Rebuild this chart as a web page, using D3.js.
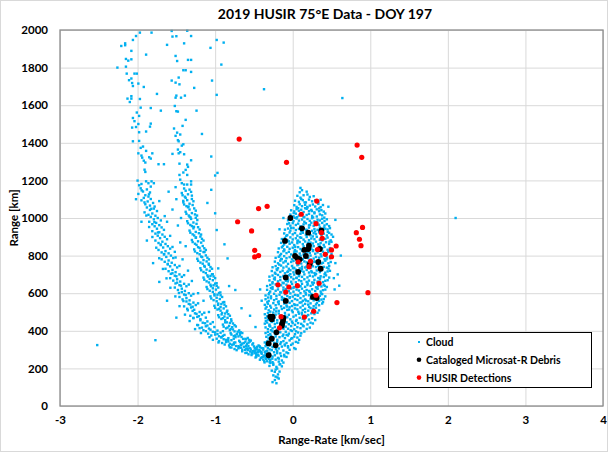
<!DOCTYPE html>
<html>
<head>
<meta charset="utf-8">
<script src="https://cdn.jsdelivr.net/npm/d3@7"></script>
<style>
body { margin: 0; background: #fff; }
#ScatterPlot text { font-family: Lato, "Liberation Sans", sans-serif; font-weight: bold; fill: #000; }
</style>
</head>
<body>
<div id="ScatterPlot"></div>
<script>
// HUSIR 75E scatter plot, range vs range-rate

//////////////////////////////////////////////////////////////////////
// data [range-rate km/s, range km]

var xTicks = [-3, -2, -1, 0, 1, 2, 3, 4];
var yTicks = [0, 200, 400, 600, 800, 1000, 1200, 1400, 1600, 1800, 2000];
var legendLabels = ["Cloud", "Cataloged Microsat-R Debris", "HUSIR Detections"];

// red dots
var husirPoints = [
  [-0.69,1420],[-0.08,1296],[0.83,1388],[0.89,1323],[0.31,1090],[-0.44,1050],[-0.33,1062],
  [-0.71,980],[-0.53,931],[0.11,1020],[0.30,970],[0.90,950],[0.82,922],[0.86,887],[0.88,853],
  [0.56,851],[0.38,892],[0.37,922],[-0.49,828],[-0.49,793],[-0.44,800],[0.32,832],[0.42,807],
  [0.50,830],[0.50,794],[0.07,766],[0.23,770],[0.21,741],[-0.19,645],[-0.05,633],[0.06,640],
  [0.34,653],[-0.09,606],[0.30,589],[0.97,603],[0.57,550],[0.27,504],[-0.15,475],[0.15,473],
  [-0.17,416]
];

// black dots
var debrisPoints = [
  [-0.03,1000],[0.12,945],[0.20,922],[0.37,934],[-0.10,878],[0.21,853],[0.20,835],[0.15,830],
  [0.35,835],[0.03,798],[0.06,786],[0.17,798],[0.09,780],[0.33,766],[0.22,755],[0.36,730],
  [0.07,713],[-0.09,684],[-0.09,559],[0.26,580],[0.31,574],[-0.29,475],[-0.26,475],[-0.27,462],
  [-0.12,468],[-0.125,454],[-0.135,440],[-0.14,427],[-0.21,392],[-0.27,358],[-0.31,333],
  [-0.22,323],[-0.31,270]
];

// cloud, sparse upper part of the left branch
var cloudUpper = [
  [-1.97,1986],[-2.02,1968],[-1.82,1986],[-1.56,1995],[-1.36,1996],[-1.55,1965],[-1.50,1967],
  [-1.31,1968],[-2.06,1947],[-2.16,1929],[-2.21,1915],[-2.16,1919],[-1.62,1921],[-1.40,1929],
  [-0.98,1947],[-0.89,1933],[-2.08,1889],[-1.06,1905],[-1.89,1869],[-1.51,1862],[-2.15,1846],
  [-2.12,1837],[-2.08,1844],[-1.49,1835],[-1.35,1841],[-1.31,1841],[-0.92,1816],[-2.26,1800],
  [-2.15,1805],[-1.41,1786],[-1.38,1786],[-1.31,1777],[-2.14,1768],[-2.04,1768],[-2.01,1768],
  [-2.11,1733],[-2.08,1742],[-1.47,1747],[-1.56,1731],[-1.51,1720],[-1.46,1711],[-1.04,1731],
  [-2.07,1718],[-1.99,1715],[-1.92,1697],[-2.06,1702],[-1.27,1692],[-1.75,1660],[-2.08,1648],
  [-2.13,1635],[-2.08,1635],[-1.97,1633],[-1.50,1651],[-1.39,1651],[-1.44,1640],[-1.51,1640],
  [-0.98,1655],[-2.10,1617],[-1.83,1585],[-1.96,1587],[-1.70,1571],[-1.52,1596],[-1.50,1568],
  [-1.48,1566],[-1.24,1571],[-2.01,1561],[-1.98,1543],[-2.06,1532],[-2.04,1515],[-1.38,1522],
  [-1.99,1500],[-2.07,1481],[-2.02,1484],[-1.83,1502],[-1.84,1486],[-1.42,1490],[-1.53,1476],
  [-1.89,1460],[-1.49,1454],[-1.98,1456],[-1.17,1447],[-1.51,1437],[-1.45,1444],[-1.48,1414],
  [-2.06,1408],[-1.98,1410],[-1.41,1392],[-1.43,1385],[-1.47,1408],[-1.93,1380],[-1.96,1373],
  [-1.48,1364],[-1.45,1350],[-1.40,1339],[-1.47,1344],[-1.55,1341],[-1.99,1344],[-1.95,1332],
  [-1.94,1321],[-1.89,1357],[-1.81,1344],[-1.85,1323],[-1.05,1327],[-1.92,1305],[-1.90,1295],
  [-1.83,1316],[-1.31,1307],[-1.73,1286],[-1.66,1286],[-1.46,1289],[-1.36,1284],[-1.35,1272],
  [-1.91,1257],[-1.90,1245],[-1.38,1256],[-1.41,1242],[-1.46,1229],[-1.36,1229],[-0.97,1240],
  [-1.00,1226],[-2.00,1199],[-1.89,1195],[-1.82,1195],[-1.86,1185],[-1.79,1185],[-1.98,1174],
  [-1.95,1181],[-1.83,1167],[-1.45,1204],[-1.43,1185],[-1.40,1178],[-1.51,1164],[-1.36,1178],
  [-1.31,1195],[-1.31,1178]
];

// cloud, outer arm of the left branch
var cloudOuterArm = [
  [-1.96,1158],[-1.88,1152],[-1.93,1141],[-1.84,1136],[-1.99,1128],[-1.90,1121],[-1.86,1114],
  [-1.92,1107],[-1.83,1101],[-1.95,1094],[-1.87,1088],[-1.80,1080],[-1.90,1073],[-1.84,1066],[-1.78,1061],
  [-1.88,1056],[-1.79,1050],[-1.84,1043],[-1.75,1037],[-1.91,1030],[-1.81,1024],[-1.86,1017],[-1.77,1012],
  [-1.83,1006],[-1.74,1000],[-1.79,993],[-1.70,987],[-1.85,980],[-1.76,974],[-1.81,967],[-1.72,962],
  [-1.78,956],[-1.69,950],[-1.75,943],[-1.66,937],[-1.81,930],[-1.72,924],[-1.77,917],[-1.68,912],
  [-1.74,906],[-1.65,900],[-1.71,893],[-1.62,887],[-1.77,880],[-1.68,874],[-1.73,867],[-1.64,862],
  [-1.70,856],[-1.61,850],[-1.67,843],[-1.58,837],[-1.73,830],[-1.64,824],[-1.69,817],[-1.60,812],[-1.55,846],
  [-1.66,806],[-1.57,800],[-1.63,793],[-1.54,787],[-1.69,780],[-1.60,774],[-1.65,767],[-1.56,762],[-1.51,790],
  [-1.61,756],[-1.52,750],[-1.58,743],[-1.49,737],[-1.64,730],[-1.55,724],[-1.60,717],[-1.51,712],[-1.46,745],
  [-1.55,706],[-1.46,700],[-1.52,693],[-1.43,687],[-1.58,680],[-1.49,674],[-1.54,667],[-1.45,662],[-1.40,696],[-1.50,690],
  [-1.49,656],[-1.40,650],[-1.46,643],[-1.37,637],[-1.52,630],[-1.43,624],[-1.48,617],[-1.39,612],[-1.34,646],[-1.44,640],
  [-1.43,606],[-1.34,600],[-1.40,593],[-1.31,587],[-1.46,580],[-1.37,574],[-1.42,567],[-1.33,562],[-1.28,596],[-1.38,590],
  [-1.37,556],[-1.28,550],[-1.34,543],[-1.25,537],[-1.40,530],[-1.31,524],[-1.36,517],[-1.27,512],[-1.22,546],[-1.32,540],[-1.29,528],
  [-1.29,506],[-1.20,500],[-1.26,493],[-1.17,487],[-1.32,480],[-1.23,474],[-1.28,467],[-1.19,462],[-1.14,496],[-1.24,490],[-1.21,478],[-1.12,470],
  [-1.19,456],[-1.10,450],[-1.16,443],[-1.06,437],[-1.22,430],[-1.12,424],[-1.17,417],[-1.08,412],[-1.03,446],[-1.13,440],[-1.10,428],[-1.01,420],[-1.20,414],
  [-1.06,406],[-0.97,401],[-1.03,395],[-0.93,390],[-1.09,385],[-1.00,380],[-1.05,375],[-0.95,371],[-0.90,398],[-1.00,392],[-0.97,383],[-0.88,378],[-1.12,398],[-0.92,365],
  [-0.92,366],[-0.83,361],[-0.89,355],[-0.79,350],[-0.95,345],[-0.86,340],[-0.91,335],[-0.81,331],[-0.76,358],[-0.86,352],[-0.83,343],[-0.74,338],[-0.98,358],[-0.78,326],
  [-0.76,328],[-0.67,324],[-0.73,319],[-0.63,315],[-0.79,311],[-0.70,307],[-0.75,303],[-0.65,300],[-0.60,320],[-0.70,318],[-0.67,310],[-0.58,306],[-0.82,322],
  [-0.58,298],[-0.49,294],[-0.55,290],[-0.45,286],[-0.61,282],[-0.52,279],[-0.57,275],[-0.47,272],[-0.42,292],[-0.52,288],[-0.49,281],[-0.40,278],
  [-0.44,268],[-0.38,262],[-0.41,255],[-0.35,258],[-0.47,262],[-0.38,247],
  [-1.947,1147],[-1.853,1126],[-1.911,1083],[-1.823,1049],[-1.887,1013],[-1.783,978],[-1.851,952],[-1.737,923],
  [-1.809,899],[-1.701,859],[-1.759,842],[-1.657,808],[-1.721,786],[-1.611,753],[-1.673,729],[-1.571,703],
  [-1.627,679],[-1.511,652],[-1.577,629],[-1.467,601],[-1.513,583],[-1.409,558],[-1.459,531],[-1.353,509],
  [-1.389,486],[-1.281,469],[-1.329,452],[-1.231,431],[-1.259,409],[-1.151,403],[-1.183,388],[-1.073,366],
  [-1.029,352],[-0.957,338],[-0.877,327],[-0.811,312],[-0.723,297],[-0.651,291],[-0.593,283],[-0.531,271],
  [-0.479,258],[-0.423,246],[-0.367,239]
];

// cloud, inner arm of the left branch
var cloudInnerArm = [
  [-1.40,1157],[-1.33,1151],[-1.38,1145],[-1.31,1139],[-1.43,1133],[-1.35,1126],[-1.30,1119],[-1.39,1113],[-1.42,1121],
  [-1.38,1107],[-1.30,1101],[-1.36,1095],[-1.28,1089],[-1.41,1083],[-1.33,1076],[-1.29,1069],[-1.37,1063],[-1.40,1072],
  [-1.35,1057],[-1.27,1051],[-1.33,1045],[-1.25,1039],[-1.38,1033],[-1.30,1026],[-1.26,1019],[-1.34,1013],[-1.37,1022],
  [-1.33,1007],[-1.25,1001],[-1.31,995],[-1.23,989],[-1.36,983],[-1.28,976],[-1.24,969],[-1.32,963],[-1.35,972],
  [-1.30,957],[-1.22,951],[-1.28,945],[-1.20,939],[-1.33,933],[-1.25,926],[-1.21,919],[-1.29,913],[-1.32,922],
  [-1.27,907],[-1.19,901],[-1.25,895],[-1.17,889],[-1.30,883],[-1.22,876],[-1.18,869],[-1.26,863],[-1.29,872],[-1.15,880],
  [-1.24,857],[-1.16,851],[-1.22,845],[-1.14,839],[-1.27,833],[-1.19,826],[-1.15,819],[-1.23,813],[-1.26,822],[-1.12,830],
  [-1.20,807],[-1.12,801],[-1.18,795],[-1.10,789],[-1.23,783],[-1.15,776],[-1.11,769],[-1.19,763],[-1.22,772],[-1.08,780],
  [-1.16,757],[-1.08,751],[-1.14,745],[-1.06,739],[-1.19,733],[-1.11,726],[-1.07,719],[-1.15,713],[-1.18,722],[-1.04,730],
  [-1.12,707],[-1.04,701],[-1.10,695],[-1.02,689],[-1.15,683],[-1.07,676],[-1.03,669],[-1.11,663],[-1.14,672],[-1.00,680],[-1.06,692],
  [-1.08,657],[-1.00,651],[-1.06,645],[-0.98,639],[-1.11,633],[-1.03,626],[-0.99,619],[-1.07,613],[-1.10,622],[-0.96,630],[-1.02,642],
  [-1.03,607],[-0.95,601],[-1.01,595],[-0.93,589],[-1.06,583],[-0.98,576],[-0.94,569],[-1.02,563],[-1.05,572],[-0.91,580],[-0.97,592],
  [-0.98,557],[-0.90,551],[-0.96,545],[-0.88,539],[-1.01,533],[-0.93,526],[-0.89,519],[-0.97,513],[-1.00,522],[-0.86,530],[-0.92,542],[-0.95,517],
  [-0.93,507],[-0.85,501],[-0.91,495],[-0.83,489],[-0.96,483],[-0.88,476],[-0.84,469],[-0.92,463],[-0.95,472],[-0.81,480],[-0.87,492],[-0.90,467],
  [-0.87,457],[-0.79,451],[-0.85,445],[-0.77,439],[-0.90,433],[-0.82,426],[-0.78,419],[-0.86,413],[-0.89,422],[-0.75,430],[-0.81,442],[-0.84,417],[-0.80,410],
  [-0.77,407],[-0.69,402],[-0.75,397],[-0.67,392],[-0.80,387],[-0.72,382],[-0.68,377],[-0.76,372],[-0.79,380],[-0.65,388],[-0.71,395],[-0.74,375],[-0.70,370],
  [-0.66,367],[-0.58,362],[-0.64,357],[-0.56,352],[-0.69,347],[-0.61,342],[-0.57,337],[-0.65,332],[-0.68,340],[-0.54,348],[-0.60,355],[-0.63,335],[-0.59,330],
  [-0.52,327],[-0.44,322],[-0.50,317],[-0.42,312],[-0.55,307],[-0.47,302],[-0.43,297],[-0.51,292],[-0.54,300],[-0.40,308],[-0.46,315],[-0.49,295],[-0.45,290],[-0.38,300],[-0.41,285],
  [-1.411,1091],[-1.343,1061],[-1.317,1003],[-1.273,953],[-1.247,897],[-1.201,841],[-1.167,792],[-1.133,741],
  [-1.091,688],[-1.053,637],[-1.009,588],[-0.963,538],[-0.917,487],[-0.871,445],[-0.811,403],[-0.737,366],
  [-0.663,326],[-0.599,306],[-0.529,281],[-0.451,272],[-0.373,268],[-0.347,251],[-1.233,1013],[-1.181,912],
  [-1.137,819],[-1.083,757],[-1.031,701],[-0.981,653],[-0.933,604],[-0.883,553],[-0.843,507],[-0.793,461],
  [-0.733,423],[-0.681,389],[-0.611,357],[-0.571,319],[-0.489,309],[-0.431,291],
  [-0.457,301],[-0.403,287],[-0.351,279],[-0.313,263],[-0.291,247],[-0.339,291],[-0.381,307],[-0.427,318],
  [-0.511,333],[-0.553,343],[-0.297,233],[-0.263,252],[-0.363,232],[-0.397,259],[-0.471,283],[-0.613,299],
  [-0.691,313],[-0.757,337],[-0.833,351],[-0.901,373]
];

// cloud, loose points between and around the arms, plus outliers
var cloudScatter = [
  [-1.60,1140],[-1.72,1090],[-1.55,1045],[-1.65,1010],[-1.48,960],[-1.58,905],[-1.45,870],[-1.52,820],
  [-1.42,780],[-1.35,720],[-1.30,665],[-1.22,600],[-1.15,560],[-1.08,500],[-1.62,980],[-1.50,1100],
  [-1.44,1000],[-1.38,850],[-1.00,1025],[-0.98,936],[-0.84,785],[-0.96,732],[-0.82,638],[-0.74,617],
  [-0.66,520],[-1.05,1150],[-1.10,1080],[-0.88,860],[-0.55,480],[-0.48,420],[-2.02,1100],[-1.95,980],
  [-1.88,880],[-1.80,760],[-1.72,660],[-1.62,560],[-1.50,470],[-2.52,324],[-1.77,350],[-0.37,1685],
  [0.64,1638],[2.10,1000],[0.55,760],[0.58,700],[0.60,640],[0.54,620],[0.52,900],[0.55,990],
  [0.10,1160],[0.46,1060],[-0.12,1000],[-0.17,940],[0.62,800],[0.53,680],[-0.40,560],[-0.42,620]
];

// cloud, dense lobe right of zero
var cloudLobe = [
  [0.12,1148],[0.18,1140],[0.09,1137],
  [0.06,1118],[0.14,1121],[0.22,1112],[0.27,1116],[0.10,1108],[0.19,1125],
  [0.03,1092],[0.08,1086],[0.13,1095],[0.17,1083],[0.21,1098],[0.25,1089],[0.29,1094],[0.33,1084],[0.11,1101],[0.36,1097],
  [0.02,1068],[0.05,1059],[0.09,1073],[0.12,1063],[0.16,1070],[0.19,1056],[0.22,1066],[0.26,1072],[0.29,1061],[0.33,1075],[0.36,1058],[0.39,1069],[0.07,1052],
  [-0.02,1041],[0.02,1035],[0.05,1047],[0.08,1038],[0.11,1044],[0.14,1032],[0.18,1049],[0.21,1037],[0.24,1043],[0.28,1030],[0.31,1046],[0.34,1036],[0.37,1042],[0.40,1034],[0.16,1052],
  [-0.03,1018],[0.01,1009],[0.04,1023],[0.08,1013],[0.11,1020],[0.14,1006],[0.18,1016],[0.21,1022],[0.25,1011],[0.28,1025],[0.31,1008],[0.35,1019],[0.38,1014],[0.42,1024],[0.15,1004],
  [-0.06,988],[-0.02,994],[0.01,983],[0.05,997],[0.08,986],[0.12,992],[0.15,980],[0.19,995],[0.22,985],[0.25,999],[0.28,982],[0.32,991],[0.35,987],[0.38,996],[0.41,984],[0.44,993],[0.03,1001],
  [-0.07,968],[-0.03,959],[0.00,973],[0.04,963],[0.07,970],[0.10,956],[0.14,966],[0.17,972],[0.21,961],[0.24,975],[0.27,958],[0.31,969],[0.34,964],[0.38,974],[0.41,960],[0.44,967],[0.47,957],
  [-0.10,938],[-0.06,944],[-0.03,933],[0.01,947],[0.04,936],[0.08,942],[0.11,930],[0.14,945],[0.18,935],[0.21,949],[0.25,932],[0.28,941],[0.32,937],[0.35,950],[0.38,934],[0.42,943],[0.45,939],[0.48,946],
  [-0.11,918],[-0.07,909],[-0.04,923],[0.00,913],[0.03,920],[0.06,906],[0.10,916],[0.13,922],[0.17,911],[0.20,925],[0.23,908],[0.27,919],[0.30,914],[0.34,924],[0.37,910],[0.40,917],[0.44,907],[0.47,921],[0.50,912],
  [-0.14,888],[-0.10,894],[-0.07,883],[-0.03,897],[0.00,886],[0.04,892],[0.07,880],[0.11,895],[0.14,885],[0.18,899],[0.21,882],[0.24,891],[0.28,887],[0.31,900],[0.35,884],[0.38,893],[0.42,889],[0.45,896],[0.49,881],
  [-0.15,868],[-0.11,859],[-0.08,873],[-0.04,863],[-0.01,870],[0.02,856],[0.06,866],[0.09,872],[0.13,861],[0.16,875],[0.19,858],[0.23,869],[0.26,864],[0.30,874],[0.33,860],[0.36,867],[0.40,857],[0.43,871],[0.47,862],[0.50,873],
  [-0.18,838],[-0.14,844],[-0.11,833],[-0.07,847],[-0.04,836],[0.00,842],[0.03,830],[0.07,845],[0.10,835],[0.14,849],[0.17,832],[0.20,841],[0.24,837],[0.27,850],[0.31,834],[0.34,843],[0.38,839],[0.41,846],[0.45,831],[0.48,840],
  [-0.19,818],[-0.15,809],[-0.12,823],[-0.08,813],[-0.05,820],[-0.02,806],[0.02,816],[0.05,822],[0.09,811],[0.12,825],[0.15,808],[0.19,819],[0.22,814],[0.26,824],[0.29,810],[0.32,817],[0.36,807],[0.39,821],[0.43,812],[0.46,823],[0.50,809],
  [-0.22,788],[-0.18,794],[-0.15,783],[-0.11,797],[-0.08,786],[-0.04,792],[-0.01,780],[0.03,795],[0.06,785],[0.10,799],[0.13,782],[0.16,791],[0.20,787],[0.23,800],[0.27,784],[0.30,793],[0.34,789],[0.37,796],[0.41,781],[0.44,790],[0.48,786],
  [-0.23,768],[-0.19,759],[-0.16,773],[-0.12,763],[-0.09,770],[-0.06,756],[-0.02,766],[0.01,772],[0.05,761],[0.08,775],[0.11,758],[0.15,769],[0.18,764],[0.22,774],[0.25,760],[0.28,767],[0.32,757],[0.35,771],[0.39,762],[0.42,773],[0.46,759],[0.49,766],
  [-0.26,738],[-0.22,744],[-0.19,733],[-0.15,747],[-0.12,736],[-0.08,742],[-0.05,730],[-0.01,745],[0.02,735],[0.06,749],[0.09,732],[0.12,741],[0.16,737],[0.19,750],[0.23,734],[0.26,743],[0.30,739],[0.33,746],[0.37,731],[0.40,740],[0.44,736],[0.47,745],
  [-0.27,718],[-0.23,709],[-0.20,723],[-0.16,713],[-0.13,720],[-0.10,706],[-0.06,716],[-0.03,722],[0.01,711],[0.04,725],[0.07,708],[0.11,719],[0.14,714],[0.18,724],[0.21,710],[0.24,717],[0.28,707],[0.31,721],[0.35,712],[0.38,723],[0.42,709],[0.45,716],[0.48,719],
  [-0.30,688],[-0.26,694],[-0.23,683],[-0.19,697],[-0.16,686],[-0.12,692],[-0.09,680],[-0.05,695],[-0.02,685],[0.02,699],[0.05,682],[0.08,691],[0.12,687],[0.15,700],[0.19,684],[0.22,693],[0.26,689],[0.29,696],[0.33,681],[0.36,690],[0.40,686],[0.43,695],[0.47,683],
  [-0.30,668],[-0.26,659],[-0.23,673],[-0.19,663],[-0.16,670],[-0.13,656],[-0.09,666],[-0.06,672],[-0.02,661],[0.01,675],[0.04,658],[0.08,669],[0.11,664],[0.15,674],[0.18,660],[0.21,667],[0.25,657],[0.28,671],[0.32,662],[0.35,673],[0.39,659],[0.42,666],[0.45,669],
  [-0.33,638],[-0.29,644],[-0.26,633],[-0.22,647],[-0.19,636],[-0.15,642],[-0.12,630],[-0.08,645],[-0.05,635],[-0.01,649],[0.02,632],[0.05,641],[0.09,637],[0.12,650],[0.16,634],[0.19,643],[0.23,639],[0.26,646],[0.30,631],[0.33,640],[0.37,636],[0.40,645],[0.44,633],
  [-0.33,618],[-0.29,609],[-0.26,623],[-0.22,613],[-0.19,620],[-0.16,606],[-0.12,616],[-0.09,622],[-0.05,611],[-0.02,625],[0.01,608],[0.05,619],[0.08,614],[0.12,624],[0.15,610],[0.18,617],[0.22,607],[0.25,621],[0.29,612],[0.32,623],[0.36,609],[0.39,616],[0.42,619],
  [-0.35,588],[-0.31,594],[-0.28,583],[-0.24,597],[-0.21,586],[-0.17,592],[-0.14,580],[-0.10,595],[-0.07,585],[-0.03,599],[0.00,582],[0.03,591],[0.07,587],[0.10,600],[0.14,584],[0.17,593],[0.21,589],[0.24,596],[0.28,581],[0.31,590],[0.35,586],[0.38,595],[0.42,583],
  [-0.35,568],[-0.31,559],[-0.28,573],[-0.24,563],[-0.21,570],[-0.18,556],[-0.14,566],[-0.11,572],[-0.07,561],[-0.04,575],[-0.01,558],[0.03,569],[0.06,564],[0.10,574],[0.13,560],[0.16,567],[0.20,557],[0.23,571],[0.27,562],[0.30,573],[0.34,559],[0.37,566],[0.40,569],
  [-0.36,538],[-0.32,544],[-0.29,533],[-0.25,547],[-0.22,536],[-0.18,542],[-0.15,530],[-0.11,545],[-0.08,535],[-0.04,549],[-0.01,532],[0.02,541],[0.06,537],[0.09,550],[0.13,534],[0.16,543],[0.20,539],[0.23,546],[0.27,531],[0.30,540],[0.34,536],[0.38,545],
  [-0.35,518],[-0.31,509],[-0.28,523],[-0.24,513],[-0.21,520],[-0.18,506],[-0.14,516],[-0.11,522],[-0.07,511],[-0.04,525],[-0.01,508],[0.03,519],[0.06,514],[0.10,524],[0.13,510],[0.16,517],[0.20,507],[0.23,521],[0.27,512],[0.30,523],[0.34,509],
  [-0.36,488],[-0.32,494],[-0.29,483],[-0.25,497],[-0.22,486],[-0.18,492],[-0.14,480],[-0.10,495],[-0.05,485],[0.00,499],[0.04,482],[0.08,491],[0.12,487],[0.16,500],[0.20,484],[0.24,493],[0.28,489],[0.32,496],
  [-0.35,468],[-0.32,459],[-0.29,473],[-0.26,463],[-0.23,470],[-0.20,456],[-0.11,466],[-0.07,472],[-0.03,461],[0.01,475],[0.05,458],[0.09,469],[0.13,464],[0.17,474],[0.21,460],[0.25,467],[0.29,457],
  [-0.36,438],[-0.33,444],[-0.30,433],[-0.27,447],[-0.23,436],[-0.20,442],[-0.12,430],[-0.08,445],[-0.05,435],[-0.01,449],[0.03,432],[0.07,441],[0.11,437],[0.15,450],[0.19,434],[0.23,443],[0.26,439],
  [-0.35,418],[-0.32,409],[-0.29,423],[-0.26,413],[-0.23,420],[-0.20,406],[-0.13,416],[-0.09,422],[-0.06,411],[-0.02,425],[0.02,408],[0.06,419],[0.10,414],[0.14,424],[0.18,410],[0.22,417],
  [-0.35,388],[-0.32,394],[-0.29,383],[-0.26,397],[-0.23,386],[-0.16,392],[-0.12,380],[-0.09,395],[-0.05,385],[-0.01,399],[0.03,382],[0.07,391],[0.11,387],[0.15,396],
  [-0.34,368],[-0.31,359],[-0.28,373],[-0.25,363],[-0.22,370],[-0.17,366],[-0.13,372],[-0.10,361],[-0.06,375],[-0.02,358],[0.02,369],[0.06,364],[0.10,374],
  [-0.36,338],[-0.33,344],[-0.30,333],[-0.27,347],[-0.24,336],[-0.20,342],[-0.16,330],[-0.12,345],[-0.08,335],[-0.04,349],[0.00,332],[0.04,341],[0.07,337],
  [-0.35,318],[-0.32,309],[-0.29,323],[-0.26,313],[-0.22,320],[-0.18,306],[-0.14,316],[-0.10,322],[-0.06,311],[-0.02,325],[0.02,308],
  [-0.36,288],[-0.33,294],[-0.30,283],[-0.27,297],[-0.24,286],[-0.20,292],[-0.16,280],[-0.12,295],[-0.08,285],[-0.04,299],
  [-0.35,268],[-0.32,259],[-0.29,273],[-0.26,263],[-0.23,270],[-0.19,256],[-0.15,266],[-0.11,272],[-0.08,261],
  [-0.33,238],[-0.29,244],[-0.26,233],[-0.22,247],[-0.18,236],[-0.14,242],[-0.12,231],
  [-0.30,213],[-0.25,219],[-0.21,208],[-0.17,221],[-0.14,211],
  [-0.27,188],[-0.22,194],[-0.17,183],[-0.20,199],
  [-0.25,163],[-0.19,168],[-0.22,156],
  [-0.23,138],[-0.18,146],
  [-0.21,121],[-0.26,127]
];

// cloud, extra points filling the lobe between the rows above
var cloudLobeFill = [
  [0.013,1027],[0.187,1059],[0.263,1003],[0.341,1051],[-0.047,972],[0.097,951],[0.223,963],[0.407,1002],
  [0.131,923],[-0.083,905],[0.289,928],[0.452,926],[0.061,877],[-0.127,851],[0.197,868],[0.347,853],
  [0.473,874],[0.027,823],[-0.163,801],[0.139,806],[0.263,829],[0.419,803],[-0.093,771],[0.071,752],
  [0.233,779],[0.371,758],[-0.207,727],[-0.031,701],[0.119,729],[0.301,703],[0.461,731],[-0.241,677],
  [-0.117,653],[0.047,681],[0.193,652],[0.353,679],[-0.281,627],[-0.149,604],[0.009,629],[0.167,601],
  [0.317,628],[-0.317,577],[-0.189,553],[-0.037,579],[0.113,551],[0.257,577],[0.391,553],[-0.337,527],
  [-0.213,503],[-0.073,529],[0.073,501],[0.211,527],[-0.329,477],[-0.243,452],[-0.097,481],[0.043,452],
  [0.181,479],[-0.301,427],[-0.157,439],[-0.027,403],[0.131,428],[-0.313,377],[-0.199,352],[-0.079,378],
  [0.083,352],[-0.343,326],[-0.217,302],[-0.103,327],[0.037,303],[-0.327,277],[-0.179,252],[-0.059,281],
  [-0.251,226],[-0.311,251],
  [0.153,1083],[0.247,1037],[0.057,1004],[0.317,977],[-0.019,947],[0.173,938],[0.403,949],[0.093,897],
  [-0.051,876],[0.259,902],[0.381,881],[-0.109,827],[0.033,847],[0.181,822],[0.327,841],[0.457,819],
  [-0.141,781],[0.117,778],[0.283,768],[0.437,781],[-0.173,752],[0.003,733],[0.177,741],[0.353,727],
  [-0.221,703],[-0.069,713],[0.083,697],[0.247,711],[0.411,701],[-0.261,652],[-0.063,663],[0.101,637],
  [0.273,656],[0.413,639],[-0.303,601],[-0.087,617],[0.061,589],[0.213,612],[0.367,599],[-0.327,552],
  [-0.123,567],[0.029,537],[0.171,561],[0.313,549],[-0.289,502],[-0.047,513],[0.117,496],[0.263,517],
  [-0.347,452],[-0.163,467],[-0.001,441],[0.149,463],[-0.281,403],[-0.119,411],[0.043,397],[-0.257,352],
  [-0.151,339],[-0.007,361],[-0.297,301],[-0.061,318],[-0.201,281],[-0.107,264],[-0.287,229],[-0.161,223],
  [-0.231,182],[-0.197,152]
];

//////////////////////////////////////////////////////////////////////
// layout

var myNS = {};
myNS.width = 608;
myNS.height = 452;
myNS.plotLeft = 60;
myNS.plotRight = 603;
myNS.plotTop = 30;
myNS.plotBottom = 406;

myNS.cloudColor = "#00b0f0";
myNS.debrisColor = "#000000";
myNS.husirColor = "#ff0000";
myNS.gridColor = "#d9d9d9";

myNS.cloud = cloudUpper.concat(cloudOuterArm, cloudInnerArm, cloudScatter, cloudLobe, cloudLobeFill);

// create the visualization
var createScatterPlot = function () {

    var svg = makeSVG();

    createScales();
    makeGrid(svg);
    makeCloud(svg);
    makeDots(svg, debrisPoints, myNS.debrisColor, 2.9);
    makeDots(svg, husirPoints, myNS.husirColor, 2.6);
    makeAxesAndLabels(svg);
    makeLegend(svg);

}; // end createScatterPlot

function makeSVG () {

    var svg = d3.select("#ScatterPlot")
        .append("svg")
        .attr("width", myNS.width)
        .attr("height", myNS.height);

    // chart area outline
    svg.append("rect")
        .attr("x", 0.5).attr("y", 0.5)
        .attr("width", myNS.width - 1)
        .attr("height", myNS.height - 1)
        .attr("fill", "#fff")
        .attr("stroke", "#d9d9d9");

    return svg;
}

// scales
function createScales () {

    myNS.xScale = d3.scaleLinear()
        .domain([-3, 4])
        .range([myNS.plotLeft, myNS.plotRight]);

    myNS.yScale = d3.scaleLinear()
        .domain([0, 2000])
        .range([myNS.plotBottom, myNS.plotTop]);
}

// light gridlines on every tick
function makeGrid (svg) {

    var h = myNS.plotBottom - myNS.plotTop;
    var w = myNS.plotRight - myNS.plotLeft;

    var xGrid = svg.append("g")
        .attr("transform", "translate(0," + myNS.plotBottom + ")")
        .call(d3.axisBottom(myNS.xScale).tickValues(xTicks).tickSize(-h).tickFormat(""));

    var yGrid = svg.append("g")
        .attr("transform", "translate(" + myNS.plotLeft + ",0)")
        .call(d3.axisLeft(myNS.yScale).tickValues(yTicks).tickSize(-w).tickFormat(""));

    [xGrid, yGrid].forEach(function (g) {
        g.select(".domain").remove();
        g.selectAll("line").attr("stroke", myNS.gridColor).attr("stroke-width", 1);
    });
}

// small square markers for the cloud
function makeCloud (svg) {

    var size = 2.4;

    svg.append("g")
        .selectAll("rect")
        .data(myNS.cloud)
        .enter()
        .append("rect")
        .attr("x", function (d) { return myNS.xScale(d[0]) - size / 2; })
        .attr("y", function (d) { return myNS.yScale(d[1]) - size / 2; })
        .attr("width", size)
        .attr("height", size)
        .attr("fill", myNS.cloudColor);
}

// round markers
function makeDots (svg, data, color, radius) {

    svg.append("g")
        .selectAll("circle")
        .data(data)
        .enter()
        .append("circle")
        .attr("cx", function (d) { return myNS.xScale(d[0]); })
        .attr("cy", function (d) { return myNS.yScale(d[1]); })
        .attr("r", radius)
        .attr("fill", color);
}

// axes, frame, titles
function makeAxesAndLabels (svg) {

    // plot area frame
    svg.append("rect")
        .attr("x", myNS.plotLeft)
        .attr("y", myNS.plotTop)
        .attr("width", myNS.plotRight - myNS.plotLeft)
        .attr("height", myNS.plotBottom - myNS.plotTop)
        .attr("fill", "none")
        .attr("stroke", "#8c8c8c")
        .attr("stroke-width", 1.3);

    // plain integers with a hyphen minus, like the spreadsheet
    var plain = function (d) { return String(d); };

    var xAxis = svg.append("g")
        .attr("transform", "translate(0," + myNS.plotBottom + ")")
        .call(d3.axisBottom(myNS.xScale).tickValues(xTicks).tickSize(0).tickPadding(10).tickFormat(plain));

    var yAxis = svg.append("g")
        .attr("transform", "translate(" + myNS.plotLeft + ",0)")
        .call(d3.axisLeft(myNS.yScale).tickValues(yTicks).tickSize(0).tickPadding(12).tickFormat(plain));

    [xAxis, yAxis].forEach(function (g) {
        g.select(".domain").remove();
        g.selectAll("text").attr("font-size", "11.5px");
    });

    // title
    svg.append("text")
        .attr("x", 325)
        .attr("y", 19)
        .attr("text-anchor", "middle")
        .attr("font-size", "14px")
        .text("2019 HUSIR 75°E Data - DOY 197");

    // x label
    svg.append("text")
        .attr("x", (myNS.plotLeft + myNS.plotRight) / 2)
        .attr("y", 444)
        .attr("text-anchor", "middle")
        .attr("font-size", "11.5px")
        .text("Range-Rate [km/sec]");

    // y label
    svg.append("text")
        .attr("transform", "translate(18," + ((myNS.plotTop + myNS.plotBottom) / 2) + ") rotate(-90)")
        .attr("text-anchor", "middle")
        .attr("font-size", "11.5px")
        .text("Range [km]");
}

// legend box, bottom right
function makeLegend (svg) {

    var colors = [myNS.cloudColor, myNS.debrisColor, myNS.husirColor];

    svg.append("rect")
        .attr("x", 388.5)
        .attr("y", 332.5)
        .attr("width", 203)
        .attr("height", 55)
        .attr("fill", "#fff")
        .attr("stroke", "#000")
        .attr("stroke-width", 1);

    var legend = svg.selectAll(".legend")
        .data(legendLabels)
        .enter().append("g")
        .attr("class", "legend")
        .attr("transform", function (d, i) { return "translate(419," + (342 + i * 17.8) + ")"; });

    legend.each(function (d, i) {
        var g = d3.select(this);
        if (i == 0) {
            g.append("rect").attr("x", -1).attr("y", -1).attr("width", 2).attr("height", 2)
                .attr("fill", colors[i]);
        } else {
            g.append("circle").attr("r", 2.3).attr("fill", colors[i]);
        }
    });

    legend.append("text")
        .attr("x", 7)
        .attr("y", 4)
        .attr("font-size", "10.5px")
        .text(function (d) { return d; });
}

createScatterPlot();
</script>
</body>
</html>
